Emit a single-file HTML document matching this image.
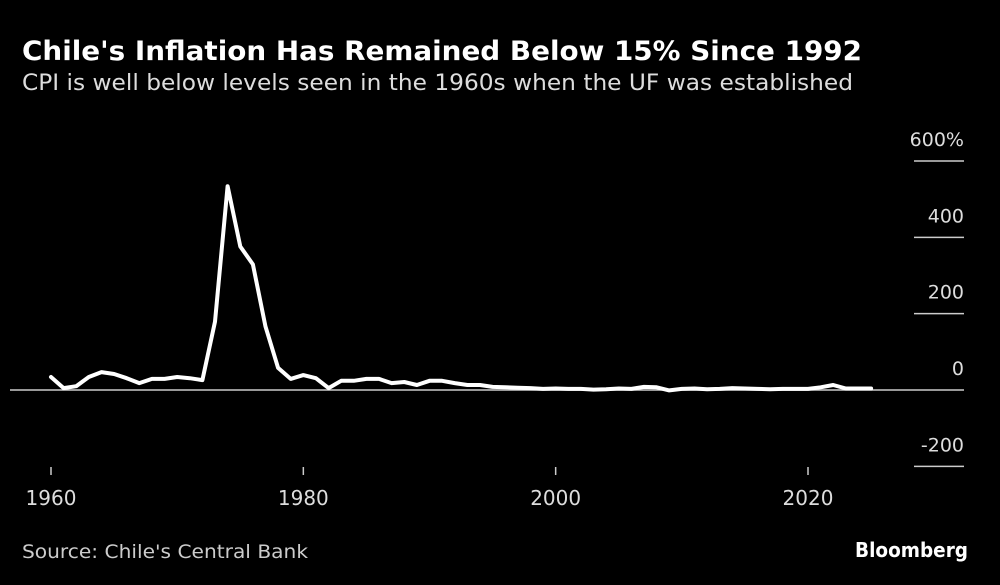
<!DOCTYPE html>
<html><head><meta charset="utf-8"><style>
body{margin:0;background:#000;}
svg{display:block;font-family:"DejaVu Sans","Liberation Sans",sans-serif;}
</style></head><body>
<svg id="chart" width="1000" height="585" viewBox="0 0 1000 585">
<rect width="1000" height="585" fill="#000"/>
<text x="22" y="60" fill="#fff" font-size="27" font-weight="bold" textLength="840" lengthAdjust="spacingAndGlyphs">Chile's Inflation Has Remained Below 15% Since 1992</text>
<text x="22" y="90" fill="#ddd" font-size="22" textLength="831" lengthAdjust="spacingAndGlyphs">CPI is well below levels seen in the 1960s when the UF was established</text>
<g id="yaxis"></g>
<g id="xaxis"></g>
<g id="series"></g>
<text x="22" y="558" fill="#ccc" font-size="19" textLength="286" lengthAdjust="spacingAndGlyphs">Source: Chile's Central Bank</text>
<text x="968" y="557" fill="#fff" font-size="20" font-weight="bold" text-anchor="end" textLength="113" lengthAdjust="spacingAndGlyphs">Bloomberg</text>
</svg>
<script>
const years = [1960,1961,1962,1963,1964,1965,1966,1967,1968,1969,1970,1971,1972,1973,1974,1975,1976,1977,1978,1979,1980,1981,1982,1983,1984,1985,1986,1987,1988,1989,1990,1991,1992,1993,1994,1995,1996,1997,1998,1999,2000,2001,2002,2003,2004,2005,2006,2007,2008,2009,2010,2011,2012,2013,2014,2015,2016,2017,2018,2019,2020,2021,2022,2023,2024,2025];
const cpi = [34,5,10,34,47,42,31,18,29,29,34,31,26,179,534,376,329,166,58,29,39,31,5,24,24,29,29,18,21,13,24,24,18,13,13,8,7,6,5,3,4,3,3,1,2,4,3,8,7,-1,3,4,2,3,5,4,3,2,3,3,3,7,13,4,4,4];
const yTicks = [600,400,200,0,-200];
const yTickLabels = ["600%","400","200","0","-200"];
const xTicks = [1960,1980,2000,2020];
const NS="http://www.w3.org/2000/svg";
const x = yr => 51 + (yr-1960)*(808-51)/60;
const y = v => 390 - v*(390-161)/600;
function mk(tag, attrs, parent){const e=document.createElementNS(NS,tag);for(const k in attrs)e.setAttribute(k,attrs[k]);parent.appendChild(e);return e;}
const ya=document.getElementById('yaxis'), xa=document.getElementById('xaxis'), sg=document.getElementById('series');
yTicks.forEach((t,i)=>{
  const ln=mk('line',{x1:t===0?10:914,x2:964,y1:y(t),y2:y(t),stroke:'#ccc','stroke-width':1.5},ya);
  
  
  const tx=mk('text',{x:964,y:y(t)-15,fill:'#ddd','font-size':19,'text-anchor':'end'},ya);
  tx.textContent=yTickLabels[i];
  
  
});
xTicks.forEach(t=>{
  const tk=mk('line',{x1:x(t),x2:x(t),y1:467,y2:475,stroke:'#ccc','stroke-width':1.5},xa);
  
  
  const tx=mk('text',{x:x(t),y:505,fill:'#ddd','font-size':20,'text-anchor':'middle'},xa);
  tx.textContent=t;
  
  
});
const pts=years.map((yr,i)=>x(yr).toFixed(1)+','+y(cpi[i]).toFixed(1)).join(' ');
const pl=mk('polyline',{points:pts,fill:'none',stroke:'#fff','stroke-width':4,'stroke-linejoin':'round','stroke-linecap':'round'},sg);


</script>
</body></html>
